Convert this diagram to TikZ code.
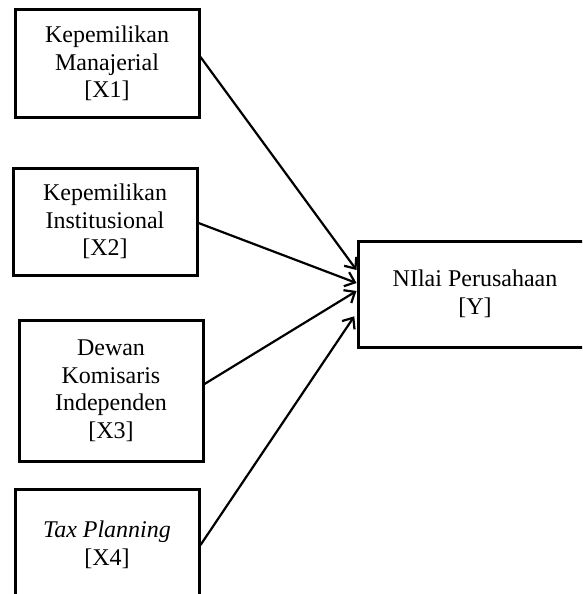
\documentclass[tikz,border=0pt]{standalone}
\usepackage{fontspec}
\setmainfont{Liberation Serif}
\usetikzlibrary{arrows.meta}
\begin{document}
\begin{tikzpicture}[x=1pt,y=-1pt,
  varbox/.style={draw,line width=3pt,align=center,inner sep=0pt,
    font=\fontsize{24}{27.5}\selectfont},
  conn/.style={line width=2.2pt,-{Straight Barb[length=9pt,width=15pt,line width=2.2pt]}}]
\useasboundingbox (0,0) rectangle (582,594);
\clip (0,0) rectangle (582,594);
\fill[white] (0,0) rectangle (582,594);
\node[varbox,minimum width=184pt,minimum height=107pt] (x1) at (107,63.5) {Kepemilikan\\Manajerial\\{[X1]}};
\node[varbox,minimum width=184pt,minimum height=107pt] (x2) at (105,221.5) {Kepemilikan\\Institusional\\{[X2]}};
\node[varbox,minimum width=184pt,minimum height=141pt] (x3) at (111,390.5) {Dewan\\Komisaris\\Independen\\{[X3]}};
\node[varbox,minimum width=184pt,minimum height=112pt] (x4) at (107,545) {\textit{Tax Planning}\\{[X4]}};
\node[varbox,minimum width=234pt,minimum height=106pt] (y) at (475,294) {NIlai Perusahaan\\{[Y]}};
\draw[conn] ([yshift=6.5pt]x1.east) -- ([yshift=24pt]y.west);
\draw[conn] ([yshift=-1.5pt]x2.east) -- ([yshift=11pt]y.west);
\draw[conn] ([yshift=6.5pt]x3.east) -- ([yshift=3pt]y.west);
\draw[conn,shorten >=4pt] (x4.east) -- ([yshift=-19pt]y.west);
\end{tikzpicture}
\end{document}
